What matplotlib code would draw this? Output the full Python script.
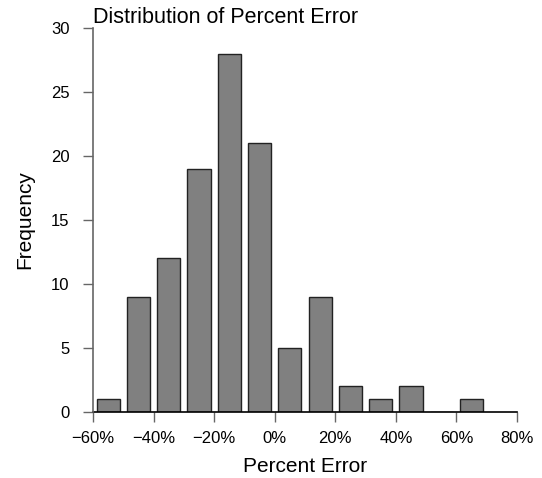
import matplotlib
matplotlib.use("Agg")
import matplotlib.pyplot as plt

plt.rcParams['font.family'] = ['Liberation Sans', 'DejaVu Sans']

bin_centers = [-55, -45, -35, -25, -15, -5, 5, 15, 25, 35, 45, 55, 65]
counts = [1, 9, 12, 19, 28, 21, 5, 9, 2, 1, 2, 0, 1]
x_ticks = [-60, -40, -20, 0, 20, 40, 60, 80]
x_tick_labels = ["\u221260%", "\u221240%", "\u221220%", "0%", "20%", "40%", "60%", "80%"]
y_ticks = [0, 5, 10, 15, 20, 25, 30]

W, H = 542, 478
fig = plt.figure(figsize=(W / 100, H / 100), dpi=100)
ax = fig.add_axes([93 / W, (H - 412) / H, (517 - 93) / W, (412 - 28) / H])

ax.bar(bin_centers, counts, width=7.6, color="#808080", edgecolor="#222222", linewidth=1.0, zorder=2)

ax.set_xlim(-60, 80)
ax.set_ylim(0, 30)
ax.set_xticks(x_ticks)
ax.set_xticklabels(x_tick_labels, fontsize=12)
ax.set_yticks(y_ticks)
ax.set_yticklabels([str(v) for v in y_ticks], fontsize=12)

for s in ["top", "right"]:
    ax.spines[s].set_visible(False)
ax.spines["left"].set_color("#666666")
ax.spines["left"].set_linewidth(1.2)
ax.spines["bottom"].set_color("black")
ax.spines["bottom"].set_linewidth(1.2)
ax.spines["left"].set_zorder(3)
ax.tick_params(axis="both", direction="out", length=7.5, width=1.0, color="#666666")
ax.tick_params(axis="y", pad=9.5)
ax.tick_params(axis="x", pad=6)

ax.set_xlabel("Percent Error", fontsize=15, labelpad=8)
ax.set_ylabel("Frequency", fontsize=15, labelpad=12)
ax.set_title("Distribution of Percent Error", fontsize=15.5, loc="left", pad=1)

fig.savefig("out.png", dpi=100)
